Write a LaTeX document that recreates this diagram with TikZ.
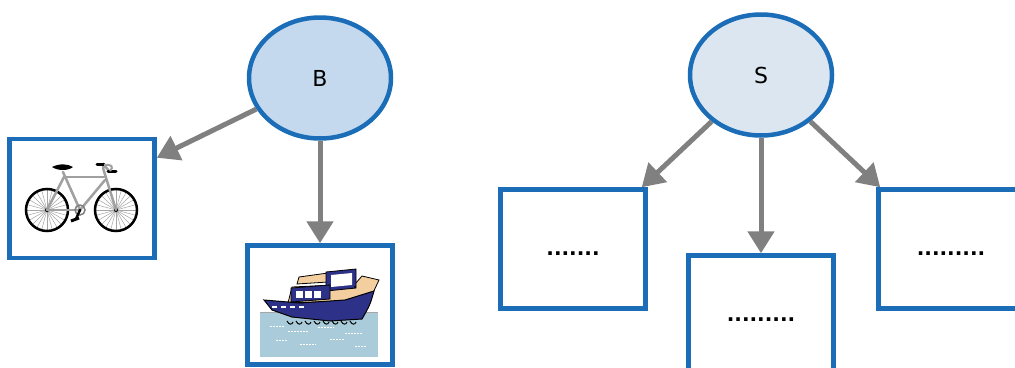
\documentclass[tikz,border=0pt]{standalone}
\usepackage{fontspec}
\setmainfont{DejaVu Sans}
\newfontfamily\dotfont{DejaVu Sans Bold}
\usetikzlibrary{arrows.meta,calc,shapes.geometric}

\definecolor{edgeblue}{HTML}{1A6DB6}
\definecolor{fillB}{HTML}{C5D9EE}
\definecolor{fillS}{HTML}{DCE6F1}
\definecolor{arrowgray}{HTML}{808080}
\definecolor{framegray}{HTML}{A0A0A0}
\definecolor{hullnavy}{HTML}{2E3188}
\definecolor{decktan}{HTML}{F3CFA0}
\definecolor{water}{HTML}{AACCDA}

\newcommand{\lowdots}[1]{\raisebox{-6pt}[0pt][0pt]{#1}}

\tikzset{
  topic/.style={ellipse, draw=edgeblue, line width=4.5pt, minimum width=142pt,
    minimum height=121pt, inner sep=0pt, font=\fontsize{22}{26}\selectfont},
  picbox/.style={rectangle, draw=edgeblue, line width=4.5pt, fill=white,
    minimum width=145pt, minimum height=119pt, inner sep=0pt},
  textbox/.style={picbox, font=\fontsize{20}{24}\dotfont},
  arr/.style={draw=arrowgray, line width=5pt,
    -{Triangle[length=22pt,width=26pt]}},
  spoke/.style={draw=gray!70, line width=0.5pt},
  tube/.style={draw=framegray, line width=2.5pt, line cap=round},
}

\begin{document}
\begin{tikzpicture}[x=1pt, y=-1pt]
\useasboundingbox (0,0) rectangle (1015,367);

% topic ellipses
\node[topic, fill=fillB] (B) at (320,78) {B};
\node[topic, fill=fillS] (S) at (761,75) {S};

% picture boxes under B
\node[picbox] (bike) at (82,198.5) {};
\node[picbox] (boat) at (320,305) {};

% text boxes under S (dots sit a little below the middle)
\node[textbox] (sl) at (573,249) {\lowdots{.......}};
\node[textbox] (sm) at (761,315) {\lowdots{.........}};
\node[textbox] (sr) at (951,249) {\lowdots{.........}};

% connectors
\draw[arr] (B) -- ($(bike.north east)+(0,21)$);
\draw[arr] (B) -- (boat.north);
\draw[arr] (S) -- ($(sl.north east)+(-6,0)$);
\draw[arr] (S) -- (sm.north);
\draw[arr] (S) -- ($(sr.north west)+(4,0)$);

% ---- bicycle ----
\begin{scope}
  \foreach \cx in {47,116} {
    \foreach \a in {0,15,...,345}
      \draw[spoke] (\cx,210) -- ++({20*cos(\a)},{20*sin(\a)});
    \draw[line width=2.5pt] (\cx,210) circle[radius=21];
    \fill (\cx,210) circle[radius=2];
  }
  % frame
  \draw[tube] (63,172) -- (80,210);
  \draw[tube] (64,177) -- (104,177);
  \draw[tube] (105,180) -- (80,210);
  \draw[tube] (80,210) -- (47,210);
  \draw[tube] (64,177) -- (47,210);
  \draw[tube] (103,168) -- (116,210);
  \draw[tube] (103,168) -- (104,165) -- (109,171);
  % chainring and crank
  \draw[draw=gray, line width=1.5pt] (80,210) circle[radius=5];
  \draw[line width=2.5pt, line cap=round] (80,210) -- (76,219);
  \draw[line width=3pt] (71,221) -- (79,218);
  % saddle
  \fill (52,167) .. controls (60,163) and (68,164) .. (73,167)
        .. controls (68,171) and (58,171) .. (52,167) -- cycle;
  % handlebar
  \draw[line width=3pt, line cap=round] (97,164) -- (104,164);
  \draw[line width=3pt, line cap=round] (108,171) -- (116,171);
  \draw[framegray, line width=2pt] (104,165) .. controls (112,164) and (114,167) .. (110,171);
\end{scope}

% ---- boat ----
\begin{scope}
  % water
  \fill[water] (260,312) rectangle (378,357);
  \draw[gray!70, line width=0.6pt] (260,312) -- (378,312);
  \foreach \x/\y/\l in {270/326/14, 288/331/20, 318/327/16, 345/333/18,
                        276/340/12, 300/344/16, 330/339/14, 355/346/12}
    \draw[white, line width=0.8pt, dash pattern=on 1.5pt off 1.5pt]
      (\x,\y) -- ++(\l,0);
  % deck body
  \filldraw[fill=decktan, draw=black, line width=0.8pt]
    (288,303) -- (292,287) -- (355,284) -- (362,276) -- (379,280)
    -- (372,295) -- (345,301) -- cycle;
  % cabin roof
  \filldraw[fill=decktan, draw=black, line width=0.8pt]
    (297,284) -- (299,277) -- (328,273) -- (328,282) -- cycle;
  % upper cabin with window
  \filldraw[fill=hullnavy, draw=black, line width=0.8pt]
    (326,272) -- (356,269) -- (356,288) -- (326,291) -- cycle;
  \fill[white] (331,275) -- (352,273) -- (352,285) -- (331,287) -- cycle;
  % lower cabin with windows
  \filldraw[fill=hullnavy, draw=black, line width=0.8pt]
    (291,288) -- (330,285) -- (330,299) -- (291,302) -- cycle;
  \foreach \x in {296,305,314}
    \fill[white] (\x,291) rectangle ++(7,7);
  % hull
  \filldraw[fill=hullnavy, draw=black, line width=1pt]
    (264,300) -- (300,303) -- (345,300) -- (374,291)
    .. controls (370,305) .. (362,319)
    -- (330,321) -- (292,317) -- (272,310) -- cycle;
  \foreach \x in {272,281,290,299}
    \fill[white] (\x,306) rectangle ++(5,2);
  \fill[black] (355,287) circle[radius=1.2];
  % spray under the hull
  \foreach \x in {287,296,305,314,323,332,341,350}
    \draw[black, line width=1pt] (\x,321) .. controls (\x+2,325) and (\x+5,325) .. (\x+6,322);
\end{scope}
\end{tikzpicture}
\end{document}
